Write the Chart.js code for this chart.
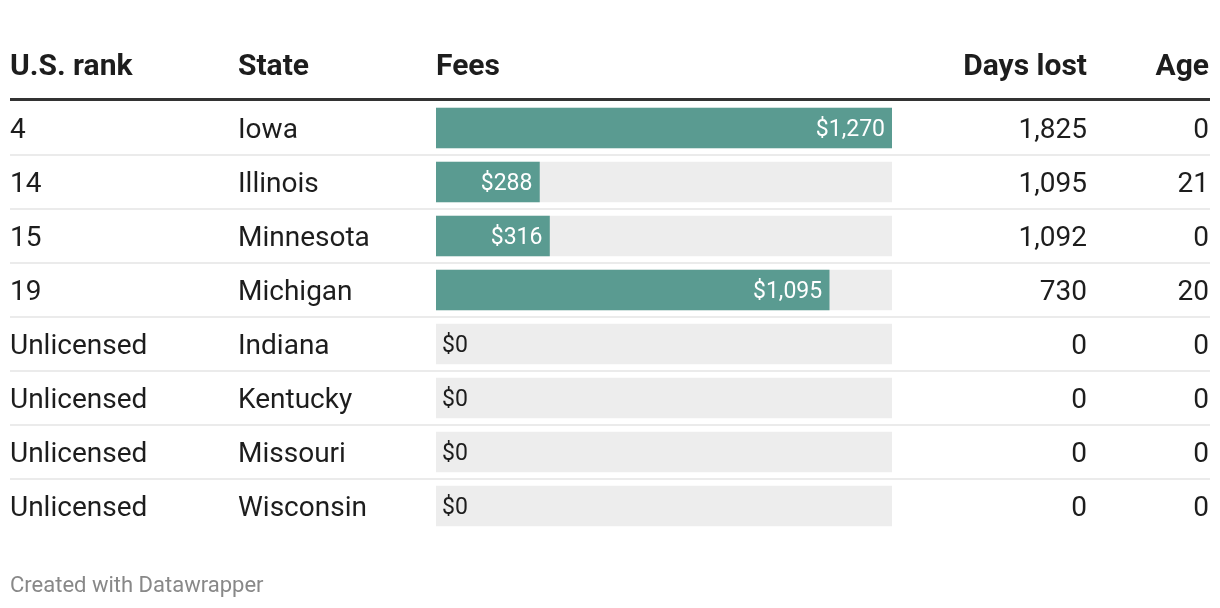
<!DOCTYPE html>
<html>
<head>
<meta charset="utf-8">
<script src="https://cdn.jsdelivr.net/npm/chart.js@4/dist/chart.umd.min.js"></script>
<style>
	html, body { margin: 0; padding: 0; background: #fff; }
	canvas { display: block; }
</style>
</head>
<body>
<canvas id="tabla" width="1220" height="608"></canvas>
<script>
// datos de la tabla
let encabezados = ['U.S. rank', 'State', 'Fees', 'Days lost', 'Age'];
let rangos = ['4', '14', '15', '19', 'Unlicensed', 'Unlicensed', 'Unlicensed', 'Unlicensed'];
let estados = ['Iowa', 'Illinois', 'Minnesota', 'Michigan', 'Indiana', 'Kentucky', 'Missouri', 'Wisconsin'];
let tarifas = [1270, 288, 316, 1095, 0, 0, 0, 0];
let diasPerdidos = [1825, 1095, 1092, 730, 0, 0, 0, 0];
let edades = [0, 21, 0, 20, 0, 0, 0, 0];

let maximo = Math.max(...tarifas);
let fondo = estados.map(() => maximo);

const fuente = 'Roboto, "Noto Sans", sans-serif';
const oscuro = '#1d1d1d';
const verde = '#5a9b91';

function dinero(v){
	return '$' + v.toLocaleString('en-US');
}

const tablaPlugin = {
	id: 'tablaPlugin',
	beforeDatasetsDraw(chart){
		let c = chart.ctx;
		let y = chart.scales.y;
		c.save();
		// encabezados
		c.fillStyle = oscuro;
		c.font = 'bold 30px ' + fuente;
		c.textAlign = 'left';
		c.fillText(encabezados[0], 10, 75);
		c.fillText(encabezados[1], 238, 75);
		c.fillText(encabezados[2], 436, 75);
		c.textAlign = 'right';
		c.fillText(encabezados[3], 1087, 75);
		c.fillText(encabezados[4], 1209, 75);
		// linea gruesa
		c.fillStyle = '#333333';
		c.fillRect(10, 98, 1200, 3);
		// separadores
		c.fillStyle = '#ebebeb';
		for(let i = 0; i < estados.length - 1; i++){
			let medio = (y.getPixelForValue(i) + y.getPixelForValue(i + 1)) / 2;
			c.fillRect(10, medio - 1, 1200, 2);
		}
		// columnas de texto
		c.font = '28px ' + fuente;
		c.fillStyle = oscuro;
		estados.forEach((e, i) => {
			let base = y.getPixelForValue(i) + 10;
			c.textAlign = 'left';
			c.fillText(rangos[i], 10, base);
			c.fillText(e, 238, base);
			c.textAlign = 'right';
			c.fillText(diasPerdidos[i].toLocaleString('en-US'), 1087, base);
			c.fillText(String(edades[i]), 1209, base);
		});
		// pie
		c.font = '22px ' + fuente;
		c.fillStyle = '#888888';
		c.textAlign = 'left';
		c.fillText('Created with Datawrapper', 10, 592);
		c.restore();
	},
	afterDatasetsDraw(chart){
		let c = chart.ctx;
		let meta = chart.getDatasetMeta(1);
		let x = chart.scales.x;
		c.save();
		c.font = '23px ' + fuente;
		meta.data.forEach((barra, i) => {
			let base = barra.y + 8;
			if(tarifas[i] > 0){
				c.fillStyle = '#ffffff';
				c.textAlign = 'right';
				c.fillText(dinero(tarifas[i]), barra.x - 7, base);
			} else {
				c.fillStyle = oscuro;
				c.textAlign = 'left';
				c.fillText(dinero(tarifas[i]), x.getPixelForValue(0) + 6, base);
			}
		});
		c.restore();
	}
};

let ctx = document.getElementById('tabla').getContext('2d');

new Chart(ctx, {
	type: 'bar',
	data: {
		labels: estados,
		datasets: [{
			label: 'fondo',
			data: fondo,
			backgroundColor: '#ededed',
			grouped: false,
			order: 2,
			barThickness: 40
		},
		{
			label: 'Fees',
			data: tarifas,
			backgroundColor: (c) => c.raw > 0 ? verde : 'rgba(0,0,0,0)',
			grouped: false,
			order: 1,
			barThickness: 40
		}]
	},
	options: {
		indexAxis: 'y',
		responsive: false,
		animation: false,
		events: [],
		layout: {
			padding: { left: 436, right: 328, top: 101, bottom: 75 }
		},
		plugins: {
			legend: { display: false },
			tooltip: { enabled: false }
		},
		scales: {
			x: { display: false, min: 0, max: maximo },
			y: { display: false, grid: { display: false } }
		}
	},
	plugins: [tablaPlugin]
});
</script>
</body>
</html>
